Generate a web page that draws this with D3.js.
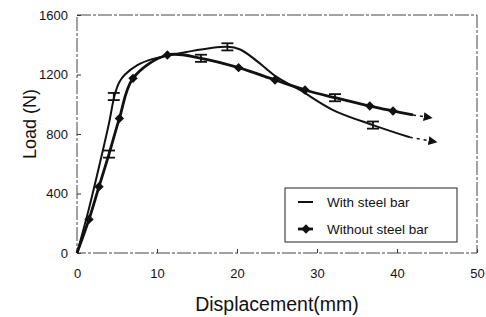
<!DOCTYPE html>
<html>
<head>
<meta charset="utf-8">
<script src="https://cdn.jsdelivr.net/npm/d3@7/dist/d3.min.js"></script>
<style>
  body { margin: 0; background: #fff; }
  svg text { font-family: "Liberation Sans", Arial, sans-serif; fill: #111; }
</style>
</head>
<body>
<svg id="chart" width="486" height="317"></svg>
<script>
// tick labels
const xTicks = [0, 10, 20, 30, 40, 50];
const yTicks = [0, 400, 800, 1200, 1600];

// "With steel bar" - smooth curve points (mm, N)
const withX = [0, 1.5, 3.1, 4.0, 4.7, 5.3, 6.0, 7.5, 9.5, 13.7, 18.8, 20.4, 22.5, 25, 27.8, 32, 37, 41.6];
const withY = [0, 300, 659, 872, 1060, 1150, 1200, 1262, 1305, 1352, 1386, 1368, 1290, 1182, 1098, 961, 860, 778];
// error bars on "With steel bar"
const withErrX = [4.6, 18.8, 37];
const withErrY = [1052, 1386, 860];

// "Without steel bar" - line points, diamonds, error bars
const woX = [0, 1.5, 2.75, 4.0, 5.3, 7.0, 11.3, 15.5, 20.2, 24.75, 28.5, 32.25, 36.6, 39.5, 42];
const woY = [0, 226, 446, 665, 905, 1174, 1331, 1309, 1246, 1163, 1096, 1044, 988, 955, 928];
const woMarkX = [1.5, 2.75, 5.3, 7.0, 11.3, 20.2, 24.75, 28.5, 36.6, 39.5];
const woMarkY = [226, 446, 905, 1174, 1331, 1246, 1163, 1096, 988, 955];
const woErrX = [4.0, 15.5, 32.25];
const woErrY = [665, 1309, 1044];
const errHalf = 24; // N

// dashed continuation with arrow heads
const arrowWith = [[41.6, 778], [44.5, 750]];
const arrowWo = [[42, 928], [43.9, 912]];

const legendLabels = ["With steel bar", "Without steel bar"];

const svg = d3.select("#chart");
const margin = { left: 77, top: 15, right: 9, bottom: 64 };
const width = 486 - margin.left - margin.right;
const height = 317 - margin.top - margin.bottom;

const g = svg.append("g").attr("transform", `translate(${margin.left},${margin.top})`);

const x = d3.scaleLinear().domain([0, 50]).range([0, width]);
const y = d3.scaleLinear().domain([0, 1600]).range([height, 0]);

// plot frame (scanned look)
g.append("rect")
  .attr("width", width).attr("height", height)
  .attr("fill", "none").attr("stroke", "#444").attr("stroke-width", 1)
  .attr("stroke-dasharray", "14,2,3,2");

// axes with inward ticks
const yAxis = g.append("g")
  .call(d3.axisLeft(y).tickValues(yTicks).tickSize(-4).tickPadding(9).tickFormat(d3.format("d")));
const xAxis = g.append("g").attr("transform", `translate(0,${height})`)
  .call(d3.axisBottom(x).tickValues(xTicks).tickSize(-4).tickPadding(16).tickFormat(d3.format("d")));
[xAxis, yAxis].forEach(a => {
  a.select(".domain").remove();
  a.selectAll(".tick line").attr("stroke", "#333");
  a.selectAll("text").attr("font-size", 13).attr("font-family", "Liberation Sans, Arial, sans-serif").attr("fill", "#111");
});

// axis titles
svg.append("text")
  .attr("x", 277).attr("y", 311).attr("text-anchor", "middle")
  .attr("font-size", 19.5).text("Displacement(mm)");
svg.append("text")
  .attr("transform", "translate(36,124) rotate(-90)").attr("text-anchor", "middle")
  .attr("font-size", 18).text("Load (N)");

const line = d3.line().x(d => x(d[0])).y(d => y(d[1])).curve(d3.curveCatmullRom.alpha(0.5));

const withPts = withX.map((v, i) => [v, withY[i]]);
const woPts = woX.map((v, i) => [v, woY[i]]);

g.append("path").datum(withPts).attr("d", line)
  .attr("fill", "none").attr("stroke", "#111").attr("stroke-width", 2);
g.append("path").datum(woPts).attr("d", line)
  .attr("fill", "none").attr("stroke", "#111").attr("stroke-width", 2.8);

// diamonds (square turned 45 degrees)
const diamond = d3.symbol().type(d3.symbolSquare).size(44);
g.selectAll(".dia").data(woMarkX).enter().append("path")
  .attr("transform", (d, i) => `translate(${x(d)},${y(woMarkY[i])}) rotate(45)`)
  .attr("d", diamond).attr("fill", "#111");

// error bars
function errBars(xs, ys) {
  const eg = g.append("g").attr("stroke", "#111").attr("stroke-width", 1.8);
  xs.forEach((xv, i) => {
    const cx = x(xv), y1 = y(ys[i] + errHalf), y2 = y(ys[i] - errHalf);
    eg.append("line").attr("x1", cx).attr("x2", cx).attr("y1", y1).attr("y2", y2);
    eg.append("line").attr("x1", cx - 6).attr("x2", cx + 6).attr("y1", y1).attr("y2", y1);
    eg.append("line").attr("x1", cx - 6).attr("x2", cx + 6).attr("y1", y2).attr("y2", y2);
  });
}
errBars(withErrX, withErrY);
errBars(woErrX, woErrY);

// arrow heads
svg.append("defs").append("marker")
  .attr("id", "arr").attr("viewBox", "0 0 10 10").attr("refX", 5).attr("refY", 5)
  .attr("markerWidth", 9).attr("markerHeight", 9).attr("markerUnits", "userSpaceOnUse")
  .attr("orient", "auto")
  .append("path").attr("d", "M0,0 L10,5 L0,10 Z").attr("fill", "#111");

[arrowWith, arrowWo].forEach(a => {
  g.append("path").datum(a).attr("d", d3.line().x(d => x(d[0])).y(d => y(d[1])))
    .attr("fill", "none").attr("stroke", "#111").attr("stroke-width", 1.5)
    .attr("stroke-dasharray", "3,4").attr("marker-end", "url(#arr)");
});

// legend
const lg = svg.append("g").attr("transform", "translate(285,188)");
lg.append("rect").attr("width", 172).attr("height", 54)
  .attr("fill", "#fff").attr("stroke", "#222").attr("stroke-width", 1);
legendLabels.forEach((lab, i) => {
  const ly = 14 + i * 27;
  lg.append("line").attr("x1", 13).attr("x2", 28).attr("y1", ly).attr("y2", ly)
    .attr("stroke", "#111").attr("stroke-width", i === 0 ? 2 : 2.8);
  if (i === 1) {
    lg.append("path").attr("transform", `translate(21,${ly}) rotate(45)`).attr("d", diamond).attr("fill", "#111");
  }
  lg.append("text").attr("x", 42).attr("y", ly + 5).attr("font-size", 13.5).text(lab);
});
</script>
</body>
</html>
